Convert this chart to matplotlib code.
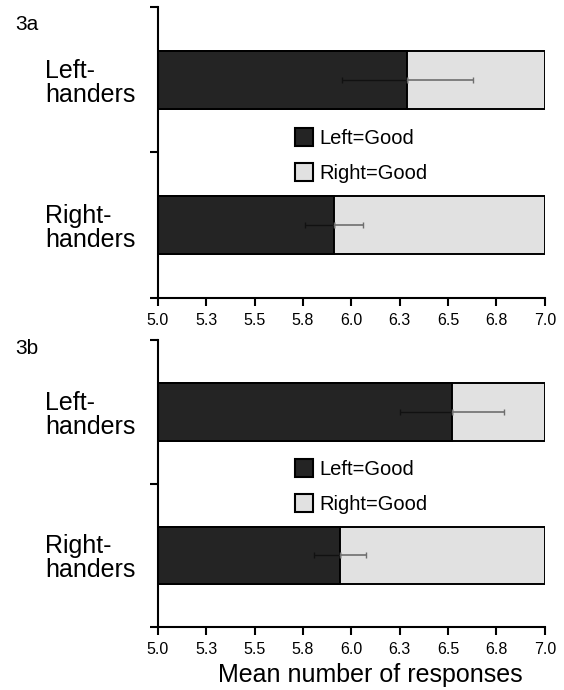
#Importing necessary Libraries
import matplotlib
matplotlib.use('Agg')
import matplotlib.pyplot as plt
from matplotlib.patches import Patch

plt.rcParams['font.family'] = ['Liberation Sans', 'DejaVu Sans']

#Data
groups = ['Left-\nhanders', 'Right-\nhanders']
panels = ['3a', '3b']
left_good_3a = [6.29, 5.91]
err_3a = [0.34, 0.15]
left_good_3b = [6.52, 5.94]
err_3b = [0.27, 0.135]
x_min, x_max = 5.0, 7.0
tick_vals = [5.0, 5.25, 5.5, 5.75, 6.0, 6.25, 6.5, 6.75, 7.0]
tick_labels = ['5.0', '5.3', '5.5', '5.8', '6.0', '6.3', '6.5', '6.8', '7.0']
legend_labels = ['Left=Good', 'Right=Good']

dark = '#242424'
light = '#e1e1e1'

fig = plt.figure(figsize=(5.64, 6.9), dpi=100)
ax_a = fig.add_axes([0.280, 0.568, 0.686, 0.422])
ax_b = fig.add_axes([0.280, 0.091, 0.686, 0.416])


def draw_panel(ax, values, errs):
    ypos = [0.5, 1.5]
    # light part spans whole range, dark part on top
    ax.barh(ypos, [x_max - x_min] * 2, left=x_min, height=0.4,
            color=light, edgecolor='black', linewidth=1.4)
    ax.barh(ypos, [v - x_min for v in values], left=x_min, height=0.4,
            color=dark, edgecolor='black', linewidth=1.4)
    for y, v, e in zip(ypos, values, errs):
        ax.errorbar(v, y, xerr=[[e], [0]], fmt='none', ecolor='#111111',
                    elinewidth=1.0, capsize=2.5, capthick=1.0)
        ax.errorbar(v, y, xerr=[[0], [e]], fmt='none', ecolor='#6e6e6e',
                    elinewidth=1.2, capsize=2.5, capthick=1.0)
    ax.set_xlim(x_min, x_max)
    ax.set_ylim(2, 0)
    ax.set_yticks([0, 1, 2])
    ax.set_yticklabels([])
    ax.set_xticks(tick_vals)
    ax.set_xticklabels(tick_labels, fontsize=11.5)
    for s in ['top', 'right']:
        ax.spines[s].set_visible(False)
    for s in ['left', 'bottom']:
        ax.spines[s].set_linewidth(1.5)
    ax.tick_params(axis='both', length=6, width=1.5, pad=5)
    for y, g in zip(ypos, groups):
        ax.text(-0.292, y + 0.02, g, transform=ax.get_yaxis_transform(),
                ha='left', va='center', fontsize=18, linespacing=1.0,
                multialignment='left')
    handles = [Patch(facecolor=dark, edgecolor='black', linewidth=1.5),
               Patch(facecolor=light, edgecolor='black', linewidth=1.5)]
    ax.legend(handles, legend_labels, loc='center left',
              bbox_to_anchor=(0.355, 0.49), frameon=False, fontsize=14.5,
              handlelength=0.9, handleheight=1.0, handletextpad=0.3,
              labelspacing=0.75, borderpad=0, borderaxespad=0)


draw_panel(ax_a, left_good_3a, err_3a)
draw_panel(ax_b, left_good_3b, err_3b)
ax_b.set_xlabel('Mean number of responses', fontsize=18)
ax_b.xaxis.set_label_coords(0.548, -0.125)

fig.text(15 / 564, 1 - 25 / 690, panels[0], fontsize=15, ha='left', va='center')
fig.text(15 / 564, 1 - 348 / 690, panels[1], fontsize=15, ha='left', va='center')

plt.savefig('out.png', dpi=100)
